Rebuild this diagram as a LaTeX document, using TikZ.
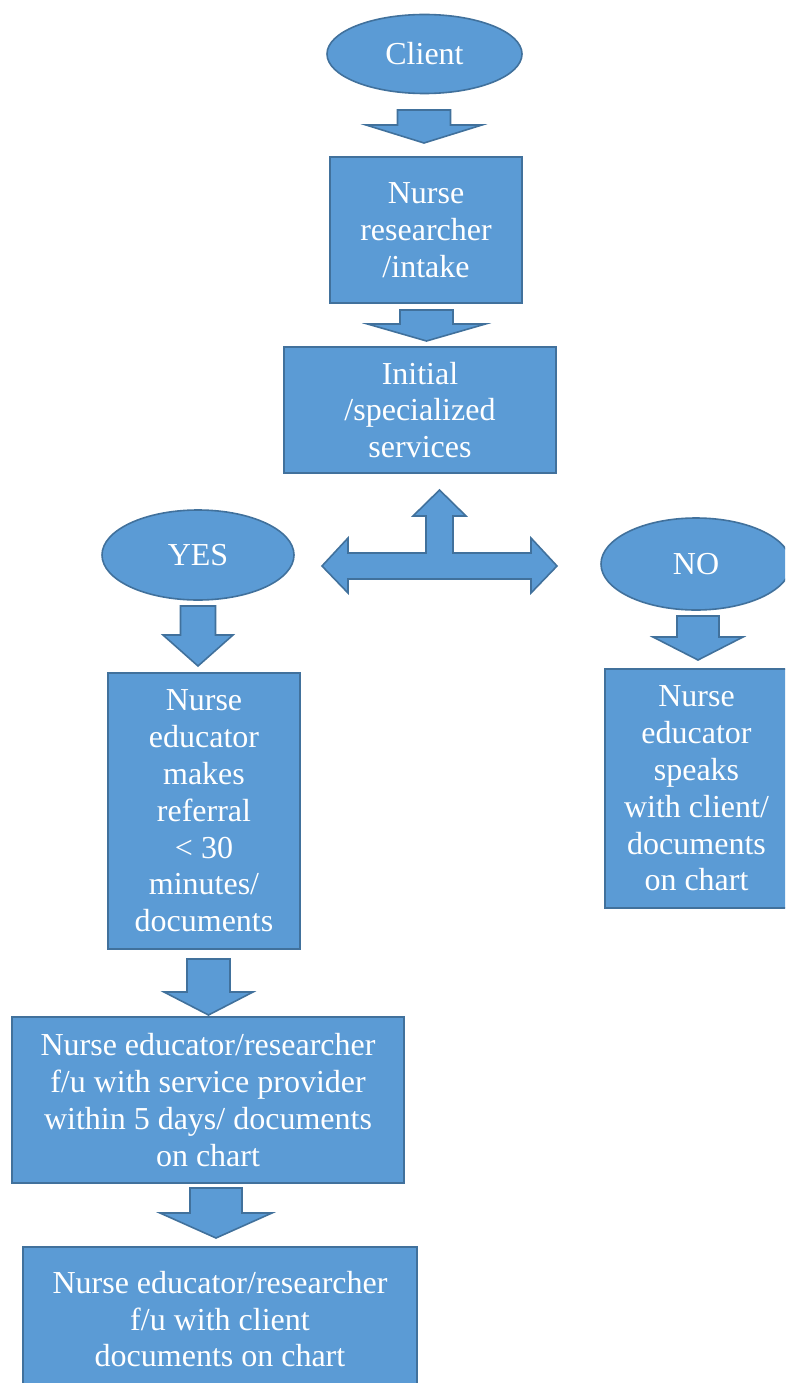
\documentclass[tikz,border=0pt]{standalone}
\usepackage{fontspec}
\setmainfont{Liberation Serif}
\usetikzlibrary{shapes.geometric}

\definecolor{boxfill}{HTML}{5B9BD5}
\definecolor{boxline}{HTML}{41719C}

\tikzset{
    flowbox/.style={rectangle, draw=boxline, fill=boxfill, line width=1.6pt,
        text=white, align=center, inner sep=0pt,
        font=\fontsize{32}{36.8}\selectfont},
    flowoval/.style={ellipse, draw=boxline, fill=boxfill, line width=1.6pt,
        text=white, inner sep=0pt, font=\fontsize{32}{36.8}\selectfont},
    blockarrow/.style={draw=boxline, fill=boxfill, line width=1.6pt, line join=miter}
}

% block arrow pointing down: centre x, top y, half shaft, half head, head y, tip y
\newcommand{\blockdown}[6]{%
    \draw[blockarrow] ({#1-#3},#2) -- ({#1+#3},#2) -- ({#1+#3},#5) -- ({#1+#4},#5)
        -- (#1,#6) -- ({#1-#4},#5) -- ({#1-#3},#5) -- cycle;}

\begin{document}
\begin{tikzpicture}[x=1pt,y=-1pt]
    \useasboundingbox (0,0) rectangle (785,1383);
    \clip (0,0) rectangle (785,1383);

    \begin{scope}[every node/.style={flowoval}]
        \node[minimum width=195pt, minimum height=79pt] (client) at (424.5,54) {Client};
        \node[minimum width=192pt, minimum height=90pt] (yes) at (198,555) {YES};
        \node[minimum width=190pt, minimum height=92pt] (no) at (696,564) {NO};
    \end{scope}

    \begin{scope}[every node/.style={flowbox}]
        \node[minimum width=192pt, minimum height=146pt] (intake) at (426,230)
            {Nurse\\researcher\\/intake};
        \node[minimum width=272pt, minimum height=126pt] (initial) at (420,410)
            {Initial\\/specialized\\services};
        \node[minimum width=192pt, minimum height=276pt] (referral) at (204,811)
            {Nurse\\educator\\makes\\referral\\< 30\\minutes/\\documents};
        \node[minimum width=183pt, minimum height=239pt] (speaks) at (696.5,788.5)
            {Nurse\\educator\\speaks\\with client/\\documents\\on chart};
        \node[minimum width=392pt, minimum height=166pt] (provider) at (208,1100)
            {Nurse educator/researcher\\f/u with service provider\\within 5 days/ documents\\on chart};
        \node[minimum width=394pt, minimum height=150pt, text depth=6pt] (clientfu) at (220,1322)
            {Nurse educator/researcher\\f/u with client\\documents on chart};
    \end{scope}

    % arrows between the steps
    \blockdown{424}{110}{26.5}{58}{125}{143}
    \blockdown{426.5}{310}{26.5}{59}{324}{341}
    \blockdown{198}{606}{17.5}{35}{635}{666}
    \blockdown{698}{616}{21}{45}{637}{660}
    \blockdown{208.5}{959}{21.5}{44.5}{992}{1015}
    \blockdown{216}{1188}{26}{56}{1213}{1238}

    % three-way arrow below initial services
    \draw[blockarrow] (322,566) -- (348,538) -- (348,553) -- (426,553) -- (426,516)
        -- (413,516) -- (439.5,490) -- (466,516) -- (453,516) -- (453,553)
        -- (531,553) -- (531,538) -- (557,566) -- (531,593) -- (531,579)
        -- (348,579) -- (348,593) -- cycle;
\end{tikzpicture}
\end{document}
